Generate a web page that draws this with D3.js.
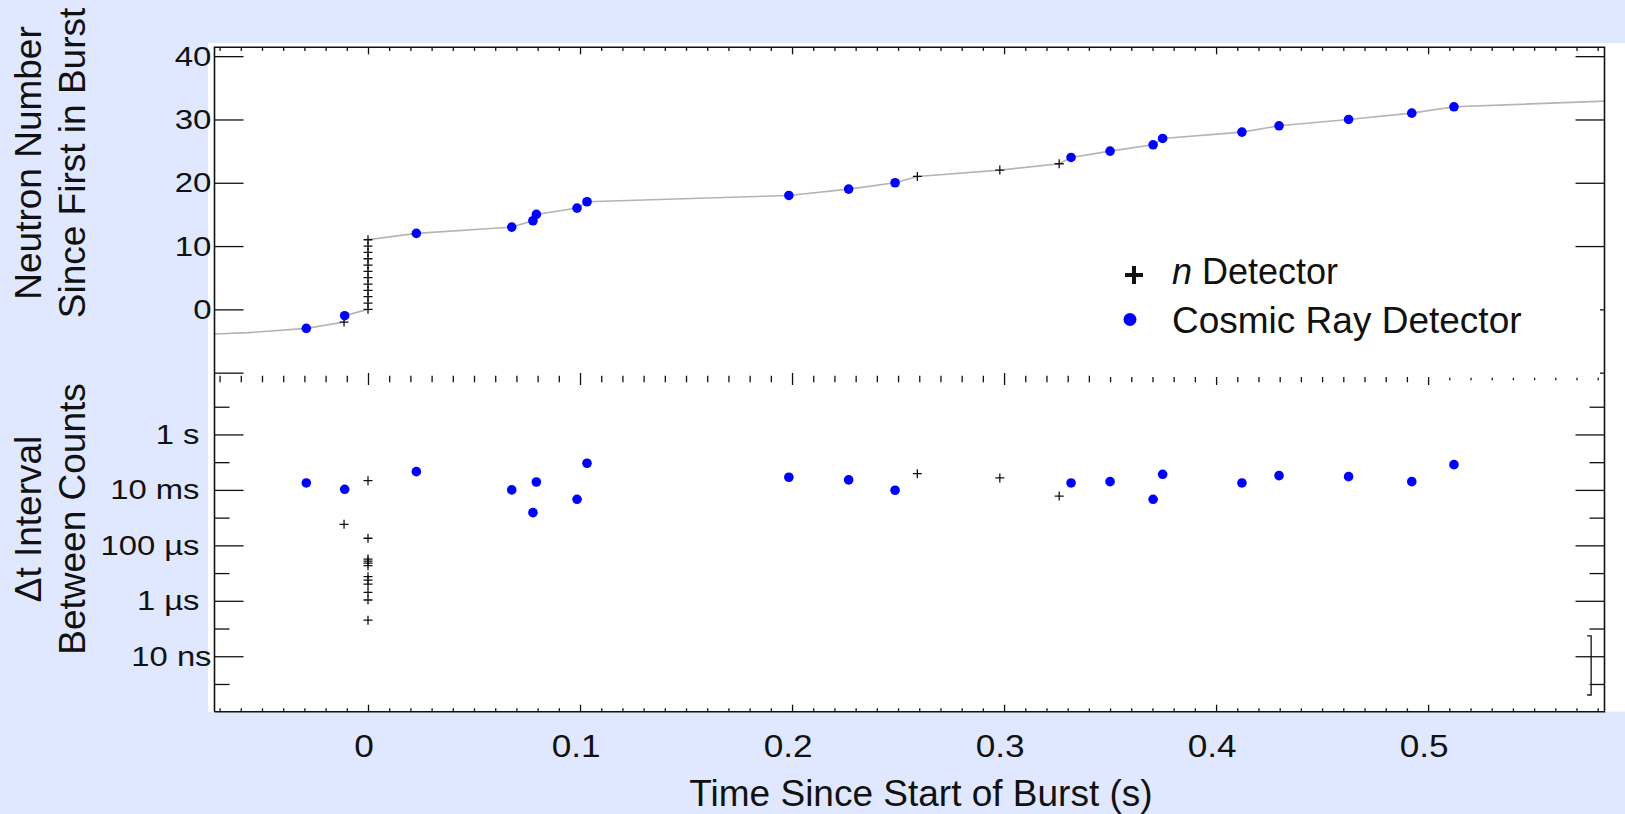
<!DOCTYPE html>
<html>
<head>
<meta charset="utf-8">
<script src="https://cdn.jsdelivr.net/npm/d3@7"></script>
<style>
  html, body { margin: 0; padding: 0; background: #e0e8ff; }
  svg { display: block; font-family: "Liberation Sans", Arial, sans-serif; }
</style>
</head>
<body>
<svg id="chart" width="1625" height="814"></svg>
<script>
// n detector hits: time since burst start (s), neutron number, interval to previous count (s)
const nDetTime = [-0.0113, 0, 0, 0, 0, 0, 0, 0, 0, 0, 0, 0, 0, 0.2591, 0.298, 0.326];
const nDetCount = [-2, 0, 1, 2, 3, 4, 5, 6, 7, 8, 9, 10, 11, 21, 22, 23];
const nDetDt = [5.75e-4, 0.0215, 1.8e-4, 3.2e-5, 2.7e-5, 2.3e-5, 1.85e-5, 7.4e-6, 5.6e-6,
                4.0e-6, 2.0e-6, 1.07e-6, 2.0e-7, 0.0386, 0.027, 6.0e-3];

// cosmic ray detector hits
const cosmicTime = [-0.0291, -0.011, 0.0228, 0.0678, 0.0778, 0.0794, 0.0986, 0.1033, 0.1985, 0.2267,
                    0.2486, 0.3316, 0.350, 0.3703, 0.3748, 0.4122, 0.4297, 0.4625, 0.4923, 0.5122];
const cosmicCount = [-3, -1, 12, 13, 14, 15, 16, 17, 18, 19, 20, 24, 25, 26, 27, 28, 29, 30, 31, 32];
const cosmicDt = [0.0178, 0.0105, 0.0455, 0.0100, 1.51e-3, 0.0193, 4.59e-3, 0.0914, 0.0286, 0.0229,
                  0.0097, 0.0178, 0.0198, 4.59e-3, 0.0366, 0.0178, 0.0327, 0.0301, 0.0198, 0.0815];

// ends of the grey count line outside the first/last hit
const lineEdgeTime = [-0.0724, -0.0565, 0.5832];
const lineEdgeCount = [-3.9, -3.68, 32.9];

// range bar in the lower right of the interval panel
const barTime = [0.5769];
const barLow = [4.0e-10];
const barHigh = [5.4e-8];

// tick labels
const countTicks = [-10, 0, 10, 20, 30, 40];
const timeTicks = [0, 0.1, 0.2, 0.3, 0.4, 0.5];
const dtTicks = [1e1, 1, 1e-1, 1e-2, 1e-3, 1e-4, 1e-5, 1e-6, 1e-7, 1e-8, 1e-9];
const dtLabels = { 1: "1 s", 1e-2: "10 ms", 1e-4: "100 µs", 1e-6: "1 µs", 1e-8: "10 ns" };

// Layout
const W = 1625, H = 814;
const plotL = 214.5, plotR = 1604.5, plotT = 47.3, plotM = 379, plotB = 711.7;
const ink = "#111";

const svg = d3.select("#chart");

svg.append("rect").attr("width", W).attr("height", H).attr("fill", "#e0e8ff");
svg.append("rect")
    .attr("x", 208).attr("y", 43)
    .attr("width", W - 208).attr("height", plotB - 43)
    .attr("fill", "#fff");

// Scales
const x = d3.scaleLinear().domain([-0.0724, 0.5832]).range([plotL, plotR]);
const yTop = d3.scaleLinear().domain([-11, 41.4]).range([plotM, plotT]);
const yBot = d3.scaleLog().domain([1e-10, 1e2]).range([plotB, plotM]);

// Grey count line through every hit, in count order
const hits = nDetTime.map((t, i) => [t, nDetCount[i]])
    .concat(cosmicTime.map((t, i) => [t, cosmicCount[i]]))
    .sort((a, b) => a[1] - b[1]);
const linePts = [[lineEdgeTime[0], lineEdgeCount[0]], [lineEdgeTime[1], lineEdgeCount[1]]]
    .concat(hits, [[lineEdgeTime[2], lineEdgeCount[2]]]);

svg.append("path")
    .datum(linePts)
    .attr("fill", "none")
    .attr("stroke", "#b4b4b4")
    .attr("stroke-width", 1.6)
    .attr("d", d3.line().x(d => x(d[0])).y(d => yTop(d[1])));

// Axis helper: keeps the ticks, drops the domain path
function styleAxis(g) {
    g.select(".domain").remove();
    g.selectAll(".tick line").attr("stroke", ink).attr("stroke-width", 1.3);
    g.selectAll(".tick text").attr("fill", ink);
}

// The tick labels in the original are drawn a little wide
function widen(texts, sx) {
    texts.each(function() {
        const t = d3.select(this);
        const tx = +t.attr("x") || 0;
        t.attr("x", 0).attr("transform", `translate(${tx},0) scale(${sx},1)`);
    });
}

const minorTime = d3.range(-7, 59).map(i => i / 100).filter(v => Math.abs(v * 10 - Math.round(v * 10)) > 1e-6);

// top edge of the count panel
svg.append("g").attr("transform", `translate(0,${plotT})`)
    .call(d3.axisBottom(x).tickValues(minorTime).tickSize(3.6).tickFormat(""))
    .call(styleAxis);
svg.append("g").attr("transform", `translate(0,${plotT})`)
    .call(d3.axisBottom(x).tickValues(timeTicks).tickSize(7).tickFormat(""))
    .call(styleAxis);

// shared edge between the panels: ticks both ways
for (const dir of [-1, 1]) {
    const minor = svg.append("g").attr("transform", `translate(0,${plotM})`)
        .call(d3.axisBottom(x).tickValues(minorTime).tickSize(3.3 * dir).tickFormat(""))
        .call(styleAxis);
    minor.selectAll(".tick line")
        .filter(d => d > 0.505)
        .attr("y2", 1.2 * dir);
    svg.append("g").attr("transform", `translate(0,${plotM})`)
        .call(d3.axisBottom(x).tickValues(timeTicks).tickSize(6 * dir).tickFormat(""))
        .call(styleAxis);
}

// bottom edge with labels
svg.append("g").attr("transform", `translate(0,${plotB})`)
    .call(d3.axisTop(x).tickValues(minorTime).tickSize(3.4).tickFormat(""))
    .call(styleAxis);
svg.append("g").attr("transform", `translate(0,${plotB})`)
    .call(d3.axisBottom(x).tickValues(timeTicks).tickSizeInner(-7).tickSizeOuter(0)
        .tickPadding(23).tickFormat(d => d3.format("~g")(d)))
    .call(styleAxis)
    .call(g => g.selectAll(".tick text").attr("font-size", 32).attr("dx", -4).call(widen, 1.1));

// count axis, left (labelled) and right
svg.append("g").attr("transform", `translate(${plotL},0)`)
    .call(d3.axisLeft(yTop).tickValues(countTicks).tickSizeInner(-29).tickSizeOuter(0)
        .tickPadding(3).tickFormat(d => d < 0 ? "" : d))
    .call(styleAxis)
    .call(g => g.selectAll(".tick text").attr("font-size", 28).call(widen, 1.18));
svg.append("g").attr("transform", `translate(${plotR},0)`)
    .call(d3.axisLeft(yTop).tickValues(countTicks).tickSize(29).tickFormat(""))
    .call(styleAxis);

// interval axis (log), long ticks at labelled decades
const isMajorDt = d => dtLabels[d] !== undefined;
svg.append("g").attr("transform", `translate(${plotL},0)`)
    .call(d3.axisRight(yBot).tickValues(dtTicks.filter(d => !isMajorDt(d))).tickSize(15).tickFormat(""))
    .call(styleAxis);
svg.append("g").attr("transform", `translate(${plotL},0)`)
    .call(d3.axisLeft(yBot).tickValues(dtTicks.filter(isMajorDt)).tickSizeInner(-29).tickSizeOuter(0)
        .tickPadding(15).tickFormat(d => dtLabels[d]))
    .call(styleAxis)
    .call(g => g.selectAll(".tick text").attr("font-size", 28)
        .attr("x", d => dtLabels[d] === "10 ns" ? -3 : -15)
        .call(widen, 1.17));
svg.append("g").attr("transform", `translate(${plotR},0)`)
    .call(d3.axisLeft(yBot).tickValues(dtTicks.filter(d => !isMajorDt(d))).tickSize(15).tickFormat(""))
    .call(styleAxis);
svg.append("g").attr("transform", `translate(${plotR},0)`)
    .call(d3.axisLeft(yBot).tickValues(dtTicks.filter(isMajorDt)).tickSize(29).tickFormat(""))
    .call(styleAxis);

// Legend background (hides the inner right ticks behind it)
svg.append("rect")
    .attr("x", 1105).attr("y", 252)
    .attr("width", 1600 - 1105).attr("height", 125)
    .attr("fill", "#fff");

// Frame
svg.append("path")
    .attr("d", `M${plotL},${plotB}V${plotT}H${plotR}V${plotB}H${plotL}`)
    .attr("fill", "none")
    .attr("stroke", ink)
    .attr("stroke-width", 1.6);

// Markers
const plus = "M-4.5,0H4.5M0,-4.5V4.5";

svg.append("g").selectAll("path")
    .data(nDetTime.map((t, i) => [t, nDetCount[i]]))
    .join("path")
    .attr("transform", d => `translate(${x(d[0])},${yTop(d[1])})`)
    .attr("d", plus)
    .attr("stroke", ink)
    .attr("stroke-width", 1.3);

svg.append("g").selectAll("circle")
    .data(cosmicTime.map((t, i) => [t, cosmicCount[i]]))
    .join("circle")
    .attr("cx", d => x(d[0]))
    .attr("cy", d => yTop(d[1]))
    .attr("r", 4.8)
    .attr("fill", "#0000ff");

svg.append("g").selectAll("path")
    .data(nDetTime.map((t, i) => [t, nDetDt[i]]))
    .join("path")
    .attr("transform", d => `translate(${x(d[0])},${yBot(d[1])})`)
    .attr("d", plus)
    .attr("stroke", ink)
    .attr("stroke-width", 1.3);

svg.append("g").selectAll("circle")
    .data(cosmicTime.map((t, i) => [t, cosmicDt[i]]))
    .join("circle")
    .attr("cx", d => x(d[0]))
    .attr("cy", d => yBot(d[1]))
    .attr("r", 4.8)
    .attr("fill", "#0000ff");

// range bar with caps
svg.append("g").selectAll("path")
    .data(barTime.map((t, i) => [t, barLow[i], barHigh[i]]))
    .join("path")
    .attr("d", d => {
        const bx = x(d[0]), y0 = yBot(d[1]), y1 = yBot(d[2]);
        return `M${bx - 4},${y1}H${bx}V${y0}H${bx - 4}`;
    })
    .attr("fill", "none")
    .attr("stroke", ink)
    .attr("stroke-width", 1.3);

// Legend
svg.append("path")
    .attr("transform", "translate(1134,275)")
    .attr("d", "M-9,0H9M0,-9V9")
    .attr("stroke", ink)
    .attr("stroke-width", 4);
svg.append("circle")
    .attr("cx", 1130).attr("cy", 319.5).attr("r", 6.5)
    .attr("fill", "#0000ff");

const nLabel = svg.append("text")
    .attr("x", 1172).attr("y", 284)
    .attr("font-size", 36).attr("fill", ink);
nLabel.append("tspan").attr("font-style", "italic").text("n");
nLabel.append("tspan").text(" Detector");

svg.append("text")
    .attr("x", 1172).attr("y", 333)
    .attr("font-size", 37).attr("fill", ink)
    .text("Cosmic Ray Detector");

// Axis titles
svg.append("text")
    .attr("x", 921).attr("y", 806)
    .attr("text-anchor", "middle")
    .attr("font-size", 37).attr("fill", ink)
    .text("Time Since Start of Burst (s)");

function sideTitle(lines, cy) {
    const bases = [40.7, 85];
    lines.forEach((s, i) => {
        svg.append("text")
            .attr("transform", `translate(${bases[i]},${cy}) rotate(-90)`)
            .attr("text-anchor", "middle")
            .attr("font-size", 37).attr("fill", ink)
            .text(s);
    });
}
sideTitle(["Neutron Number", "Since First in Burst"], 163);
sideTitle(["Δt Interval", "Between Counts"], 519);
</script>
</body>
</html>
